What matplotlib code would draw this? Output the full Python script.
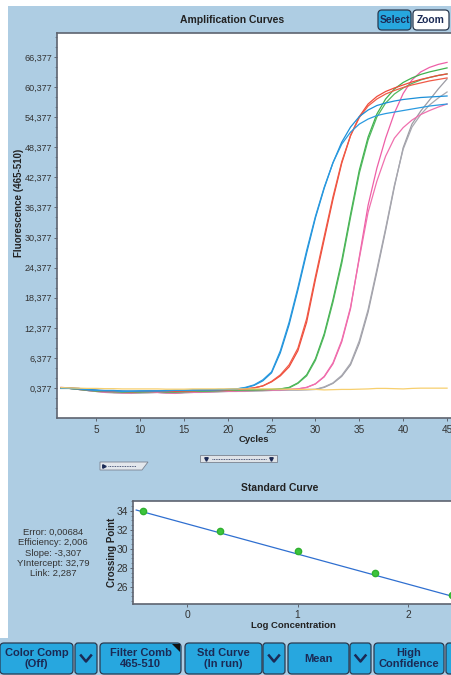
import numpy as np
import matplotlib.pyplot as plt
from matplotlib.patches import FancyBboxPatch, Rectangle, Polygon
from matplotlib.ticker import FixedLocator, FixedFormatter, MultipleLocator

# Amplification data (fluorescence, thousands) per cycle
cycles = list(range(1, 46))

blue_a = [0.4, 0.35, 0.3, 0.1, 0.0, -0.1, -0.1, -0.2, -0.2, -0.2, -0.2, -0.2, -0.1, -0.1, -0.1, 0.0, 0.0, 0.0, 0.1, 0.1, 0.2,
          0.4, 0.9, 1.8, 3.4, 7.4, 13.0, 19.9, 27.3, 34.3, 40.2, 45.3, 49.4,
          52.4, 54.5, 55.8, 56.7, 57.2, 57.6, 57.9, 58.1, 58.3, 58.4, 58.5, 58.6]
blue_b = [0.3, 0.3, 0.2, 0.0, -0.1, -0.2, -0.2, -0.3, -0.3, -0.2, -0.2, -0.2, -0.2, -0.1, -0.1, -0.1, 0.0, 0.0, 0.0, 0.1, 0.2,
          0.5, 1.0, 2.0, 3.6, 7.8, 13.5, 20.4, 27.8, 34.6, 40.4, 45.3, 49.0,
          51.4, 53.0, 54.0, 54.7, 55.1, 55.4, 55.7, 56.0, 56.3, 56.6, 56.8, 57.0]
red_a = [0.5, 0.4, 0.2, 0.0, -0.1, -0.2, -0.2, -0.3, -0.3, -0.3, -0.2, -0.2, -0.3, -0.3, -0.2, -0.1, -0.1, 0.0, 0.0, 0.1, 0.1, 0.2,
         0.4, 0.8, 1.6, 2.8, 4.6, 7.8, 13.5, 22.0, 30.0, 38.0,
         45.2, 50.7, 54.5, 57.0, 58.5, 59.5, 60.2, 60.8, 61.4, 61.9, 62.3, 62.7, 63.0]
red_b = [0.4, 0.4, 0.3, 0.1, -0.1, -0.2, -0.3, -0.3, -0.4, -0.3, -0.3, -0.3, -0.3, -0.2, -0.2, -0.2, -0.1, -0.1, 0.0, 0.0, 0.1, 0.2,
         0.4, 0.8, 1.7, 3.0, 5.0, 8.3, 14.2, 22.6, 30.6, 38.5,
         45.5, 50.7, 54.3, 56.6, 58.0, 59.0, 59.7, 60.3, 60.8, 61.2, 61.6, 61.9, 62.2]
green_a = [0.4, 0.3, 0.2, 0.0, -0.2, -0.3, -0.3, -0.4, -0.4, -0.4, -0.3, -0.3, -0.4, -0.4, -0.3, -0.3, -0.2, -0.2, -0.1, -0.1,
           0.0, 0.0, 0.0, 0.1, 0.1, 0.2,
           0.5, 1.4, 3.0, 6.2, 11.2, 18.0, 25.8, 35.0, 43.8, 50.4,
           55.0, 58.0, 60.0, 61.3, 62.2, 62.9, 63.4, 63.8, 64.2]
green_b = [0.3, 0.3, 0.1, -0.1, -0.2, -0.3, -0.4, -0.4, -0.5, -0.4, -0.4, -0.3, -0.4, -0.4, -0.4, -0.3, -0.3, -0.2, -0.2, -0.1,
           -0.1, 0.0, 0.0, 0.0, 0.1, 0.2,
           0.4, 1.3, 2.8, 5.9, 10.8, 17.5, 25.2, 34.4, 43.2, 49.8,
           54.4, 57.2, 59.0, 60.2, 61.1, 61.8, 62.3, 62.7, 63.0]
pink_a = [0.4, 0.3, 0.1, -0.1, -0.3, -0.4, -0.5, -0.5, -0.5, -0.5, -0.4, -0.4, -0.5, -0.6, -0.5, -0.4, -0.4, -0.3, -0.3, -0.2,
          -0.2, -0.1, -0.1, 0.0, 0.0, 0.1, 0.1, 0.2,
          0.5, 1.2, 2.6, 5.2, 9.6, 16.2, 26.5, 36.8,
          44.2, 50.2, 55.2, 59.1, 61.8, 63.4, 64.3, 64.9, 65.3]
pink_b = [0.4, 0.3, 0.2, 0.0, -0.2, -0.4, -0.5, -0.6, -0.6, -0.5, -0.5, -0.5, -0.6, -0.6, -0.5, -0.5, -0.4, -0.4, -0.3, -0.3,
          -0.2, -0.2, -0.1, -0.1, 0.0, 0.0, 0.1, 0.2,
          0.5, 1.2, 2.7, 5.4, 9.9, 16.5, 26.2, 35.4,
          41.6, 46.6, 50.2, 52.3, 53.8, 54.9, 55.7, 56.4, 57.0]
gray_a = [0.4, 0.3, 0.1, -0.1, -0.3, -0.4, -0.5, -0.6, -0.6, -0.6, -0.5, -0.5, -0.6, -0.6, -0.5, -0.5, -0.4, -0.4, -0.3, -0.3,
          -0.3, -0.2, -0.2, -0.1, -0.1, 0.0, 0.0, 0.0, 0.1, 0.1,
          0.5, 1.3, 2.7, 5.0, 9.3, 15.5, 23.5, 31.8,
          40.5, 48.3, 53.0, 55.6, 57.8, 60.0, 62.0]
gray_b = [0.3, 0.3, 0.1, -0.1, -0.3, -0.5, -0.6, -0.6, -0.7, -0.6, -0.6, -0.5, -0.6, -0.7, -0.6, -0.5, -0.5, -0.4, -0.4, -0.3,
          -0.3, -0.3, -0.2, -0.2, -0.1, -0.1, 0.0, 0.0, 0.0, 0.1,
          0.6, 1.4, 2.9, 5.3, 9.8, 16.0, 24.0, 32.2,
          40.8, 48.0, 52.4, 54.9, 56.8, 58.2, 59.4]
yellow = [0.45, 0.4, 0.35, 0.3, 0.3, 0.25, 0.25, 0.2, 0.2, 0.2, 0.2, 0.2, 0.15, 0.15, 0.15, 0.2, 0.2, 0.2, 0.2, 0.2,
          0.2, 0.2, 0.2, 0.2, 0.2, 0.15, 0.15, 0.1, 0.1, 0.1, 0.0, 0.05, 0.1, 0.1, 0.15, 0.2, 0.3, 0.3, 0.25, 0.2,
          0.3, 0.35, 0.35, 0.35, 0.35]

fluo_ticks = [0.377, 6.377, 12.377, 18.377, 24.377, 30.377, 36.377, 42.377, 48.377, 54.377, 60.377, 66.377]
fluo_labels = ["0,377", "6,377", "12,377", "18,377", "24,377", "30,377", "36,377",
               "42,377", "48,377", "54,377", "60,377", "66,377"]
cycle_ticks = [5, 10, 15, 20, 25, 30, 35, 40, 45]

# Standard curve
log_conc = [-0.4, 0.3, 1.0, 1.7, 2.4]
crossing = [34.0, 31.9, 29.8, 27.5, 25.2]
fit_x = [-0.46, 2.39]
fit_y = [34.1, 25.05]
stats = ["Error: 0,00684", "Efficiency: 2,006", "Slope: -3,307", "YIntercept: 32,79", "Link: 2,287"]

W, H = 451, 675
BG = '#aecde3'
BTN = '#27a7df'
NAVY = '#1b2a55'
SANS = ['Liberation Sans', 'DejaVu Sans']

fig = plt.figure(figsize=(W / 100, H / 100), dpi=100, facecolor=BG)

# UI layer in pixel coordinates
ui = fig.add_axes([0, 0, 1, 1], zorder=-5)
ui.set_xlim(0, W)
ui.set_ylim(H, 0)
ui.axis('off')
ui.add_patch(Rectangle((0, 0), W, 6, facecolor='white', edgecolor='none'))
ui.add_patch(Rectangle((0, 0), 8, 638, facecolor='white', edgecolor='none'))

def button(x, y, w, h, text, face=BTN, size=8.0):
    ui.add_patch(FancyBboxPatch((x, y), w, h, boxstyle="round,pad=0,rounding_size=4",
                                facecolor=face, edgecolor='#2a3a50', lw=0.9))
    ui.text(x + w / 2, y + h / 2, text, ha='center', va='center', fontsize=size,
            fontweight='bold', color=NAVY, family=SANS, linespacing=1.1)

def chevron(x, y, w, h):
    ui.add_patch(FancyBboxPatch((x, y), w, h, boxstyle="round,pad=0,rounding_size=3",
                                facecolor=BTN, edgecolor='#2a3a50', lw=0.9))
    cx, cy = x + w / 2, y + h / 2
    ui.plot([cx - 5, cx, cx + 5], [cy - 3, cy + 3, cy - 3], color=NAVY, lw=1.8)

# top buttons
button(378, 10, 33, 20, "Select", size=7.4)
button(413, 10, 36, 20, "Zoom", face='white', size=7.4)

# bottom toolbar
button(0, 643, 73, 31, "Color Comp\n(Off)")
chevron(75, 643, 22, 31)
button(100, 643, 81, 31, "Filter Comb\n465-510")
ui.add_patch(Polygon([(172, 644), (180, 644), (180, 652)], closed=True, facecolor='#111111'))
button(185, 643, 77, 31, "Std Curve\n(In run)")
chevron(263, 643, 22, 31)
button(288, 643, 61, 31, "Mean")
chevron(350, 643, 21, 31)
button(374, 643, 70, 31, "High\nConfidence")
chevron(446, 643, 22, 31)

# small scroll widgets
ui.add_patch(Rectangle((200, 455), 77, 7, facecolor='#dfe3e8', edgecolor='#7a8290', lw=0.6))
ui.plot([212, 266], [458.5, 458.5], color=NAVY, lw=0.6, ls=(0, (1, 1)))
ui.plot([206, 271], [458.5, 458.5], ls='none', marker='v', ms=2.5, color=NAVY)
ui.add_patch(Polygon([(100, 462), (148, 462), (142, 470), (100, 470)], closed=True,
                     facecolor='#e3e7ec', edgecolor='#7a8290', lw=0.6))
ui.plot([108, 136], [466, 466], color=NAVY, lw=0.6, ls=(0, (1, 1)))
ui.plot([104], [466], ls='none', marker='>', ms=2.5, color=NAVY)

# titles / labels
ui.text(232, 20, "Amplification Curves", ha='center', va='center', fontsize=7.5,
        fontweight='bold', color='#222222', family=SANS)
ui.text(254, 440, "Cycles", ha='center', va='center', fontsize=6.8,
        fontweight='bold', color='#222222', family=SANS)
ui.text(19, 203, "Fluorescence (465-510)", ha='center', va='center', rotation=90,
        fontsize=7.0, fontweight='bold', color='#222222', family=SANS)
ui.text(280, 488, "Standard Curve", ha='center', va='center', fontsize=7.5,
        fontweight='bold', color='#222222', family=SANS)
ui.text(293, 626, "Log Concentration", ha='center', va='center', fontsize=6.8,
        fontweight='bold', color='#222222', family=SANS)
ui.text(112, 552, "Crossing Point", ha='center', va='center', rotation=90,
        fontsize=7, fontweight='bold', color='#222222', family=SANS)
ui.text(53, 553, "\n".join(stats), ha='center', va='center', fontsize=6.8,
        color='#333333', family=SANS, linespacing=1.2)

# Amplification curves
ax = fig.add_axes([57 / W, 1 - 418 / H, 1 - 57 / W, (418 - 33) / H])
ax.set_facecolor('white')
series = [(gray_a, '#9c9ca4'), (gray_b, '#a8a8b0'), (pink_a, '#ee5fa7'), (pink_b, '#f070ae'),
          (green_a, '#3fb24e'), (green_b, '#52b85e'), (red_a, '#ef4a3a'), (red_b, '#f05a46'),
          (blue_a, '#1c8fd8'), (blue_b, '#2a9ae0'), (yellow, '#f7cf6e')]
for vals, col in series:
    ax.plot(cycles, vals, color=col, lw=0.9)
ax.set_xlim(0.55, 45.45)
ax.set_ylim(-5.6, 71.16)
ax.yaxis.set_major_locator(FixedLocator(fluo_ticks))
ax.yaxis.set_major_formatter(FixedFormatter(fluo_labels))
ax.yaxis.set_minor_locator(FixedLocator(np.arange(-3.623, 71, 2.0)))
ax.set_xticks(cycle_ticks)
ax.set_xticklabels([str(c) for c in cycle_ticks])

def style(a):
    for s in ['left', 'bottom', 'top']:
        a.spines[s].set_color('#5e6470')
        a.spines[s].set_linewidth(1.2)
    a.spines['right'].set_visible(False)
    a.tick_params(which='major', length=2.5, width=0.7, color='#5e6470', pad=1.2,
                  labelsize=6.5, labelcolor='#333333')
    a.tick_params(which='minor', length=1.3, width=0.5, color='#5e6470')
    for lab in a.get_xticklabels() + a.get_yticklabels():
        lab.set_family(SANS)

style(ax)
ax.tick_params(axis='x', pad=2.5, labelsize=7.2)

# Standard curve
ax2 = fig.add_axes([133 / W, 1 - 604 / H, 1 - 133 / W, (604 - 501) / H])
ax2.set_facecolor('white')
ax2.plot(fit_x, fit_y, color='#2f6fd0', lw=0.9)
ax2.plot(log_conc, crossing, ls='none', marker='o', ms=4.5, color='#3cc43c', mec='#2fb02f')
ax2.set_xlim(-0.489, 2.389)
ax2.set_ylim(24.2, 35.05)
ax2.set_xticks([0, 1, 2])
ax2.set_yticks([26, 28, 30, 32, 34])
ax2.yaxis.set_minor_locator(MultipleLocator(0.5))
style(ax2)
ax2.tick_params(axis='x', pad=2, labelsize=7.4)
ax2.tick_params(axis='y', labelsize=7.4)

fig.savefig('out.png', dpi=100, facecolor=BG)
